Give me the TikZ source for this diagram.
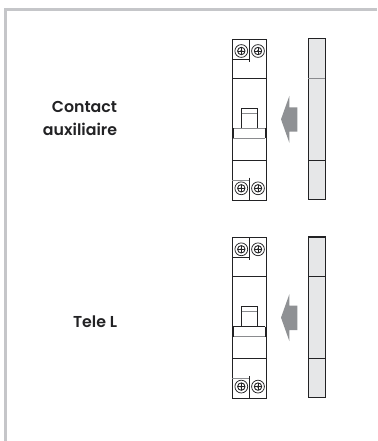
\documentclass[tikz,border=0pt]{standalone}
\usepackage{fontspec}
\setmainfont{Poppins}[UprightFont=* SemiBold]
\definecolor{framegray}{HTML}{C5C6C9}
\definecolor{inkdark}{HTML}{222224}
\definecolor{arrowgray}{HTML}{8F9194}
\definecolor{modfill}{HTML}{E6E7E8}
\definecolor{softline}{HTML}{8A8B8E}
\tikzset{
  frameline/.style={draw=framegray,line width=2.6pt},
  devline/.style={draw=inkdark,line width=0.85pt},
  softdev/.style={draw=softline,line width=0.85pt},
  modbox/.style={draw=inkdark,line width=1.3pt,fill=modfill},
  pointer/.style={fill=arrowgray,draw=none},
  label/.style={font=\fontsize{15.8pt}{23.4pt}\selectfont,text=inkdark,align=right,anchor=base east,inner sep=0pt},
  screw/.pic={
    \draw[devline,line width=0.75pt] (0,0) circle (6.4);
    \draw[devline,line width=0.9pt] (0,0) circle (3.7);
    \draw[devline,line width=0.7pt] (-3.4,0) -- (3.4,0) (0,-3.4) -- (0,3.4);
    \fill[inkdark] (0,0) circle (1.2);
  }
}
% #1 vertical offset, #2 colour of the module's upper divider, #3 colour of the bar's upper edge
\newcommand{\devicepair}[3]{
  \begin{scope}[yshift=-#1pt]
    \draw[devline] (232.3,39.3) rectangle (266.7,200);
    \draw[devline] (232.3,78.3) -- (266.7,78.3);
    \draw[devline] (232.3,160.3) -- (266.7,160.3);
    \draw[devline] (249.3,39.3) -- (249.3,61.7);
    \draw[devline] (232.3,59) -- (249.3,59);
    \draw[devline] (249.3,177.7) -- (249.3,200);
    \draw[softdev] (232.3,180) -- (249.3,180);
    \pic at (241.3,51) {screw};
    \pic at (258,51) {screw};
    \pic at (241.3,188.3) {screw};
    \pic at (258,188.3) {screw};
    \draw[devline] (241.7,128.3) -- (241.7,108.3) -- (257,108.3) -- (257,128.3);
    \draw[softdev] (241.7,113.6) -- (257,113.6);
    \draw[softdev] (233.3,138.3) -- (265.3,138.3);
    \draw[draw=#3,line width=0.85pt] (233.3,128.3) -- (265.3,128.3);
    \draw[devline,line width=1.2pt] (233.3,128.3) -- (233.3,138.3) (265.3,128.3) -- (265.3,138.3);
    \fill[pointer] (281,119.3) -- (289.3,96) -- (289.3,107.3) -- (297.3,107.3) -- (297.3,131.7) -- (289.3,131.7) -- (289.3,142.7) -- cycle;
    \draw[modbox] (308.3,38.7) rectangle (325.3,199.3);
    \draw[draw=#2,line width=0.85pt] (308.3,78.3) -- (325.3,78.3);
    \draw[devline] (308.3,160.3) -- (325.3,160.3);
  \end{scope}
}
\begin{document}
\begin{tikzpicture}[x=1pt,y=-1pt]
\useasboundingbox (0,0) rectangle (377,441);
\draw[frameline] (377,9.3) -- (5.4,9.3) -- (5.4,441);
\devicepair{0}{softline}{softline}
\devicepair{198.3}{inkdark}{inkdark}
\node[label] (contact) at (117.3,135.7) {Contact\\auxiliaire};
\node[label] (tele) at (117.3,327.7) {Tele L};
\end{tikzpicture}
\end{document}
